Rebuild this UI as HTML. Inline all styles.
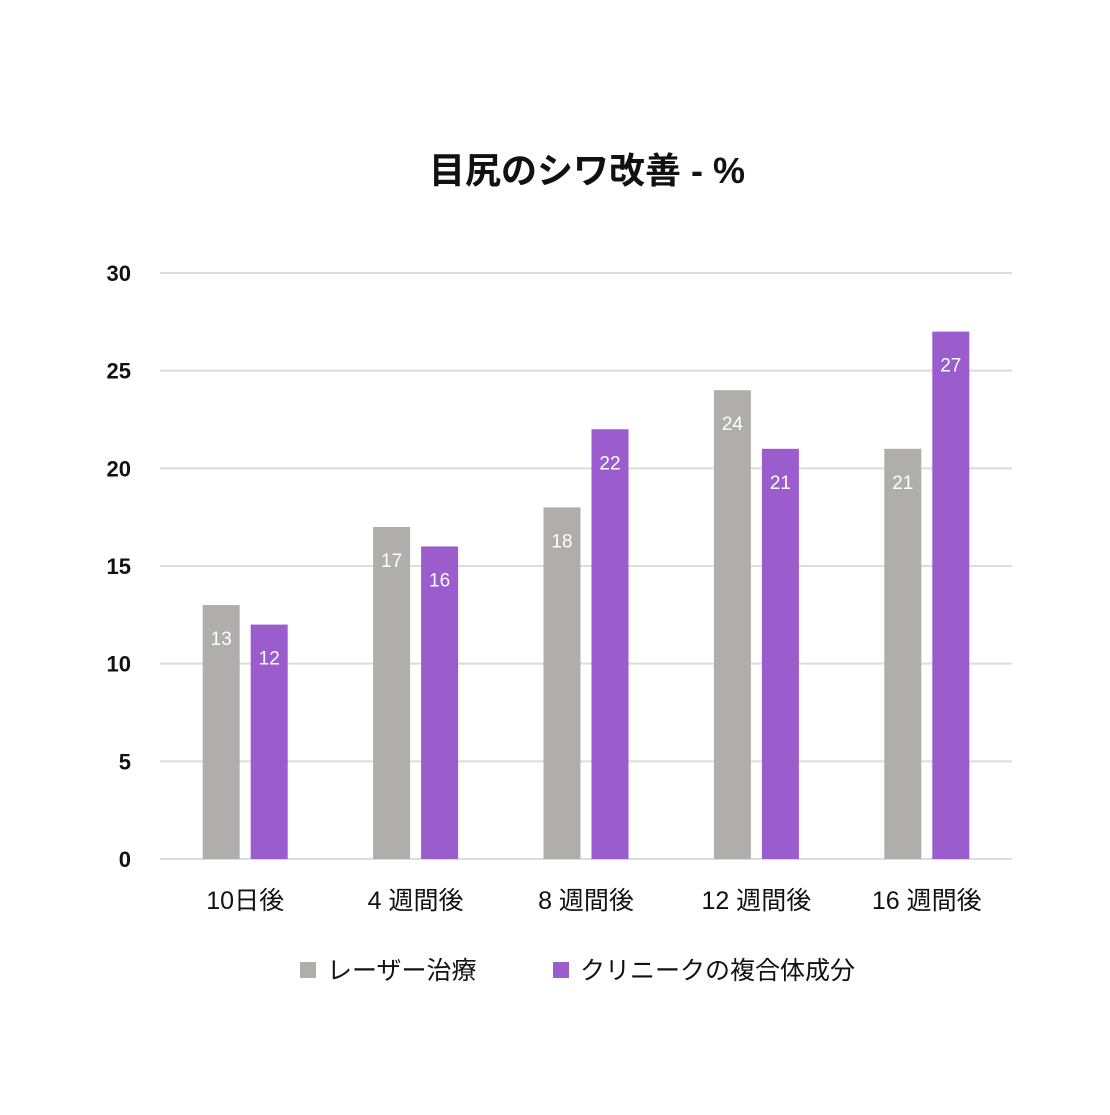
<!DOCTYPE html>
<html><head><meta charset="utf-8">
<style>
body{margin:0;background:#fff;}
svg text{font-family:"Liberation Sans","Noto Sans CJK JP",sans-serif;}
</style></head>
<body>
<svg id="chart" width="1110" height="1110" viewBox="0 0 1110 1110">
<rect width="1110" height="1110" fill="#fff"/>
<text x="587" y="183" text-anchor="middle" font-size="36" font-weight="bold" fill="#111">目尻のシワ改善 - %</text>
<g id="grid"></g><g id="bars"></g><g id="labels"></g>
<g>
<rect x="300" y="962" width="16" height="16" fill="#b0adad"/>
<text x="327" y="979" font-size="25" fill="#111">レーザー治療</text>
<rect x="553" y="962" width="16" height="16" fill="#9b5ccd"/>
<text x="580" y="979" font-size="25" fill="#111">クリニークの複合体成分</text>
</g>
</svg>
<script>
const categories = ["10日後","4 週間後","8 週間後","12 週間後","16 週間後"];
const laserValues = [13,17,18,24,21];
const cliniqueValues = [12,16,22,21,27];
const yTicks = [0,5,10,15,20,25,30];

const NS="http://www.w3.org/2000/svg";
const x0=160,x1=1012,y0=859,y1=273,yMax=30;
const yScale=v=>y0-(v/yMax)*(y0-y1);
const band=(x1-x0)/categories.length;
const xCenter=i=>x0+band*(i+0.5);
function mk(t,a,p){const e=document.createElementNS(NS,t);for(const k in a)e.setAttribute(k,a[k]);p.appendChild(e);return e;}
const grid=document.getElementById('grid'),bars=document.getElementById('bars'),labels=document.getElementById('labels');
yTicks.forEach(v=>{
  const l=mk('line',{x1:x0,x2:x1,y1:yScale(v),y2:yScale(v),stroke:'#dcdcdc','stroke-width':2},grid);
  
  
  const t=mk('text',{x:131,y:yScale(v)+8,'text-anchor':'end','font-size':22,'font-weight':'bold',fill:'#111'},grid);
  t.textContent=v;
  
  
});
const bw=37,gap=11;
categories.forEach((c,i)=>{
  const cx=xCenter(i);
  [[laserValues[i],'#b0adad',cx-gap/2-bw,'laser'],[cliniqueValues[i],'#9b5ccd',cx+gap/2,'clinique']].forEach(([v,col,x,s])=>{
    const r=mk('rect',{x:x,y:yScale(v),width:bw,height:y0-yScale(v),fill:col},bars);
    
    
    const t=mk('text',{x:x+bw/2,y:yScale(v)+40,'text-anchor':'middle','font-size':19,fill:'#fff'},labels);
    t.textContent=v;
    
    
  });
  const t=mk('text',{x:cx,y:909,'text-anchor':'middle','font-size':25,fill:'#111'},labels);
  t.textContent=c;
  
  
});
</script>
</body></html>
